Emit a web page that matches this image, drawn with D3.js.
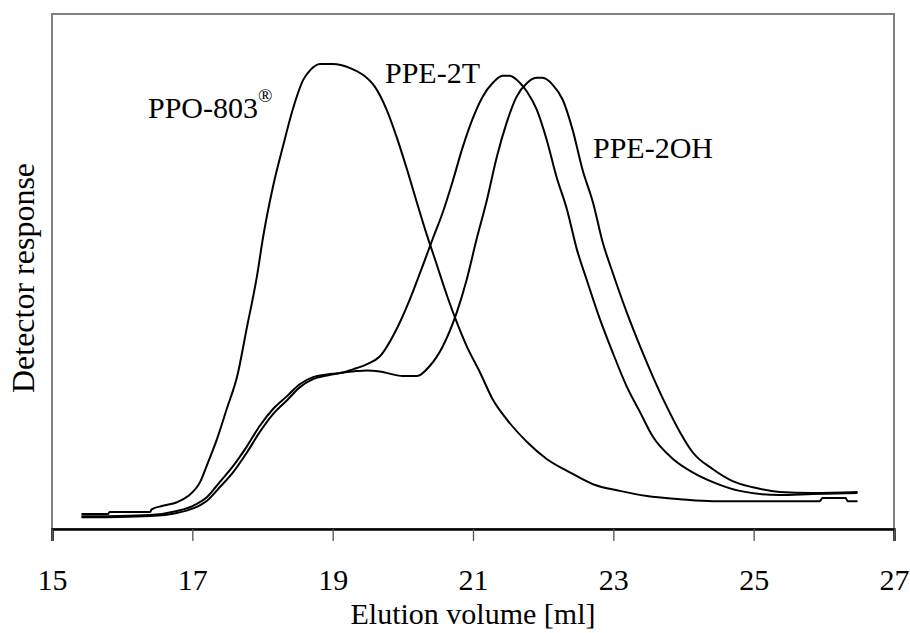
<!DOCTYPE html>
<html>
<head>
<meta charset="utf-8">
<script src="https://cdn.jsdelivr.net/npm/d3@7"></script>
<style>
    body { margin: 0; background: #fff; }
    svg text { font-family: "Times New Roman", "Liberation Serif", serif; fill: #000; }
</style>
</head>
<body>
<div id="chart"></div>
<script>
// elution volume [ml] and detector response (arbitrary units)
var ppoVolume = [15.42, 15.80, 15.82, 16.40, 16.42, 16.58, 16.78, 16.94, 17.11, 17.22, 17.35, 17.49, 17.64, 17.78, 17.92, 18.01, 18.15, 18.29, 18.43, 18.58, 18.68, 18.82, 19.00, 19.25, 19.43, 19.60, 19.77, 19.91, 20.06, 20.20, 20.34, 20.47, 20.63, 20.77, 20.91, 21.10, 21.28, 21.48, 21.77, 22.05, 22.38, 22.71, 23.09, 23.48, 23.95, 24.42, 25.94, 25.98, 26.31, 26.34, 26.48];
var ppoResponse = [2.9, 2.9, 3.3, 3.3, 3.8, 4.5, 5.2, 6.4, 9.1, 12.8, 17.4, 23.3, 29.7, 39.3, 49.0, 56.8, 66.5, 74.2, 81.4, 87.2, 89.1, 90.3, 90.3, 89.5, 88.2, 85.9, 81.4, 76.2, 69.8, 63.4, 57.2, 51.9, 45.3, 40.1, 35.5, 30.4, 25.2, 21.3, 16.9, 13.6, 11.0, 8.7, 7.4, 6.4, 5.8, 5.4, 5.4, 6.0, 6.0, 5.4, 5.4];

var ppe2tVolume = [15.42, 15.80, 16.40, 16.78, 17.01, 17.21, 17.39, 17.58, 17.78, 17.96, 18.15, 18.35, 18.53, 18.72, 18.92, 19.15, 19.29, 19.49, 19.67, 19.91, 20.10, 20.28, 20.43, 20.57, 20.71, 20.85, 20.99, 21.14, 21.28, 21.42, 21.52, 21.67, 21.77, 21.91, 22.05, 22.19, 22.34, 22.48, 22.62, 22.81, 22.99, 23.19, 23.38, 23.56, 23.85, 24.13, 24.42, 24.80, 25.37, 25.84, 26.48];
var ppe2tResponse = [2.5, 2.5, 2.7, 3.5, 4.5, 6.2, 9.1, 12.2, 16.1, 20.0, 23.3, 25.8, 28.1, 29.5, 30.0, 30.4, 31.0, 32.0, 33.5, 38.8, 44.6, 51.0, 56.5, 61.5, 67.5, 74.0, 79.5, 84.0, 86.6, 88.0, 88.0, 86.6, 84.9, 81.4, 75.6, 68.4, 62.0, 54.3, 48.4, 40.7, 34.3, 27.7, 22.7, 18.0, 13.6, 11.0, 9.1, 7.4, 6.6, 6.8, 7.0];

var ppe2ohVolume = [15.42, 15.80, 16.40, 16.78, 17.01, 17.21, 17.39, 17.58, 17.78, 17.96, 18.15, 18.35, 18.53, 18.72, 18.92, 19.15, 19.29, 19.49, 19.67, 20.00, 20.20, 20.38, 20.57, 20.77, 20.91, 21.05, 21.20, 21.34, 21.48, 21.62, 21.77, 21.91, 21.99, 22.14, 22.28, 22.42, 22.56, 22.71, 22.85, 22.99, 23.19, 23.38, 23.56, 23.76, 23.95, 24.13, 24.42, 24.70, 24.99, 25.37, 25.84, 26.48];
var ppe2ohResponse = [2.3, 2.3, 2.5, 3.1, 4.0, 5.5, 8.1, 11.0, 14.9, 18.8, 22.3, 25.0, 27.5, 29.1, 29.8, 30.4, 30.6, 30.8, 30.6, 29.7, 29.7, 31.6, 35.5, 42.1, 48.4, 56.2, 64.0, 72.3, 78.9, 83.9, 86.6, 87.6, 87.6, 86.2, 83.3, 77.5, 69.8, 63.4, 55.6, 49.8, 42.1, 35.5, 29.7, 23.8, 18.8, 14.9, 11.6, 9.3, 8.1, 7.2, 7.0, 7.2];

var xTicks = [15, 17, 19, 21, 23, 25, 27];

function zip(xs, ys) {
    return xs.map(function (v, i) { return {x: v, y: ys[i]}; });
}

var series = [
    {name: 'PPO-803', values: zip(ppoVolume, ppoResponse)},
    {name: 'PPE-2T', values: zip(ppe2tVolume, ppe2tResponse)},
    {name: 'PPE-2OH', values: zip(ppe2ohVolume, ppe2ohResponse)}
];

var width = 910, height = 633;
var margin = {left: 52, right: 894, top: 14, bottom: 529};

var svg = d3.select('#chart').append('svg')
    .attr('width', width)
    .attr('height', height);

var x = d3.scaleLinear().domain([15, 27]).range([margin.left, margin.right]);
var y = d3.scaleLinear().domain([0, 100]).range([margin.bottom, margin.top]);

// plot area frame
svg.append('rect')
    .attr('x', margin.left)
    .attr('y', margin.top)
    .attr('width', margin.right - margin.left)
    .attr('height', margin.bottom - margin.top)
    .attr('fill', 'none')
    .attr('stroke', '#808080')
    .attr('stroke-width', 2);

// x axis
var xAxis = svg.append('g')
    .attr('transform', 'translate(0,' + margin.bottom + ')')
    .call(d3.axisBottom(x).tickValues(xTicks).tickSize(12).tickFormat(d3.format('d')));
xAxis.select('.domain').attr('stroke', '#000').attr('stroke-width', 2.5);
xAxis.selectAll('.tick line').attr('stroke', '#555').attr('stroke-width', 1.3);
xAxis.selectAll('.tick text')
    .attr('font-family', '"Times New Roman", "Liberation Serif", serif')
    .attr('font-size', 30)
    .attr('y', 61)
    .attr('dy', 0);

var line = d3.line()
    .curve(d3.curveMonotoneX)
    .x(function (d) { return x(d.x); })
    .y(function (d) { return y(d.y); });

svg.selectAll('.trace')
    .data(series)
    .enter()
    .append('path')
    .attr('class', 'trace')
    .attr('d', function (d) { return line(d.values); })
    .attr('fill', 'none')
    .attr('stroke', '#000')
    .attr('stroke-width', 2)
    .attr('stroke-linejoin', 'round');

// axis titles
svg.append('text')
    .attr('x', (margin.left + margin.right) / 2)
    .attr('y', 624)
    .attr('text-anchor', 'middle')
    .style('font-size', '30px')
    .text('Elution volume [ml]');

svg.append('text')
    .attr('transform', 'translate(34,278) rotate(-90)')
    .attr('text-anchor', 'middle')
    .style('font-size', '32px')
    .text('Detector response');

// curve labels
var ppoLabel = svg.append('text')
    .attr('x', 148)
    .attr('y', 118)
    .style('font-size', '30px')
    .text('PPO-803');
ppoLabel.append('tspan')
    .attr('dy', -16)
    .style('font-size', '19px')
    .text('\u00AE');

svg.append('text')
    .attr('x', 385)
    .attr('y', 83)
    .style('font-size', '30px')
    .text('PPE-2T');

svg.append('text')
    .attr('x', 593)
    .attr('y', 158)
    .style('font-size', '30px')
    .text('PPE-2OH');
</script>
</body>
</html>
